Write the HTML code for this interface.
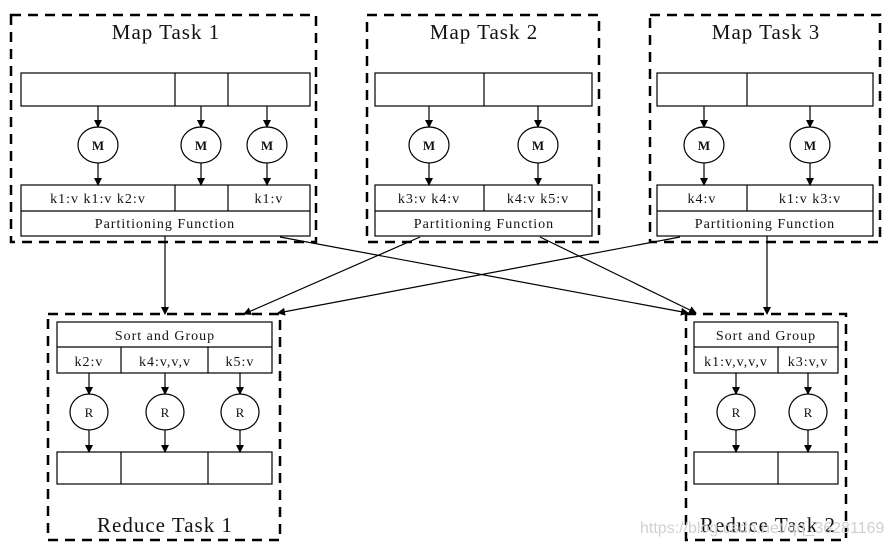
<!DOCTYPE html>
<html><head><meta charset="utf-8"><style>
html,body{margin:0;padding:0;background:#fff}
svg{display:block}
text{font-family:"Liberation Serif",serif;fill:#111}
</style></head><body>
<svg width="892" height="546" viewBox="0 0 892 546" xmlns="http://www.w3.org/2000/svg">
<defs>
<marker id="a" markerWidth="8" markerHeight="8" refX="7" refY="4" orient="auto" markerUnits="userSpaceOnUse">
<path d="M0,0 L8,4 L0,8 z" fill="#000"/></marker>
</defs>
<g fill="none" stroke="#000" stroke-width="2.5" stroke-dasharray="10,7">
<rect x="11" y="15" width="305" height="227"/>
<rect x="367" y="15" width="232" height="227"/>
<rect x="650" y="15" width="230" height="227"/>
<rect x="48" y="314" width="232" height="226"/>
<rect x="686" y="314" width="160" height="226"/>
</g>
<g font-size="21" text-anchor="middle" letter-spacing="1">
<text x="166" y="39">Map Task 1</text>
<text x="484" y="39">Map Task 2</text>
<text x="766" y="39">Map Task 3</text>
<text x="165" y="532">Reduce Task 1</text>
<text x="768" y="532">Reduce Task 2</text>
</g>
<g fill="none" stroke="#000" stroke-width="1.2">
<rect x="21" y="73" width="289" height="33"/><line x1="175" y1="73" x2="175" y2="106"/><line x1="228" y1="73" x2="228" y2="106"/>
<rect x="21" y="185" width="289" height="51"/><line x1="21" y1="211" x2="310" y2="211"/><line x1="175" y1="185" x2="175" y2="211"/><line x1="228" y1="185" x2="228" y2="211"/>
<rect x="375" y="73" width="217" height="33"/><line x1="484" y1="73" x2="484" y2="106"/>
<rect x="375" y="185" width="217" height="51"/><line x1="375" y1="211" x2="592" y2="211"/><line x1="484" y1="185" x2="484" y2="211"/>
<rect x="657" y="73" width="216" height="33"/><line x1="747" y1="73" x2="747" y2="106"/>
<rect x="657" y="185" width="216" height="51"/><line x1="657" y1="211" x2="873" y2="211"/><line x1="747" y1="185" x2="747" y2="211"/>
<rect x="57" y="322" width="215" height="51"/><line x1="57" y1="347" x2="272" y2="347"/><line x1="121" y1="347" x2="121" y2="373"/><line x1="208" y1="347" x2="208" y2="373"/>
<rect x="57" y="452" width="215" height="32"/><line x1="121" y1="452" x2="121" y2="484"/><line x1="208" y1="452" x2="208" y2="484"/>
<rect x="694" y="322" width="144" height="51"/><line x1="694" y1="347" x2="838" y2="347"/><line x1="778" y1="347" x2="778" y2="373"/>
<rect x="694" y="452" width="144" height="32"/><line x1="778" y1="452" x2="778" y2="484"/>
<ellipse cx="98" cy="145" rx="20" ry="18"/><ellipse cx="201" cy="145" rx="20" ry="18"/><ellipse cx="267" cy="145" rx="20" ry="18"/>
<ellipse cx="429" cy="145" rx="20" ry="18"/><ellipse cx="538" cy="145" rx="20" ry="18"/>
<ellipse cx="704" cy="145" rx="20" ry="18"/><ellipse cx="810" cy="145" rx="20" ry="18"/>
<ellipse cx="89" cy="412" rx="19" ry="18"/><ellipse cx="165" cy="412" rx="19" ry="18"/><ellipse cx="240" cy="412" rx="19" ry="18"/>
<ellipse cx="736" cy="412" rx="19" ry="18"/><ellipse cx="808" cy="412" rx="19" ry="18"/>
</g>
<g stroke="#000" stroke-width="1.2" marker-end="url(#a)">
<line x1="98" y1="106" x2="98" y2="127"/><line x1="98" y1="163" x2="98" y2="185"/>
<line x1="201" y1="106" x2="201" y2="127"/><line x1="201" y1="163" x2="201" y2="185"/>
<line x1="267" y1="106" x2="267" y2="127"/><line x1="267" y1="163" x2="267" y2="185"/>
<line x1="429" y1="106" x2="429" y2="127"/><line x1="429" y1="163" x2="429" y2="185"/>
<line x1="538" y1="106" x2="538" y2="127"/><line x1="538" y1="163" x2="538" y2="185"/>
<line x1="704" y1="106" x2="704" y2="127"/><line x1="704" y1="163" x2="704" y2="185"/>
<line x1="810" y1="106" x2="810" y2="127"/><line x1="810" y1="163" x2="810" y2="185"/>
<line x1="89" y1="373" x2="89" y2="394"/><line x1="89" y1="430" x2="89" y2="452"/>
<line x1="165" y1="373" x2="165" y2="394"/><line x1="165" y1="430" x2="165" y2="452"/>
<line x1="240" y1="373" x2="240" y2="394"/><line x1="240" y1="430" x2="240" y2="452"/>
<line x1="736" y1="373" x2="736" y2="394"/><line x1="736" y1="430" x2="736" y2="452"/>
<line x1="808" y1="373" x2="808" y2="394"/><line x1="808" y1="430" x2="808" y2="452"/>
<line x1="165" y1="236" x2="165" y2="314"/>
<line x1="767" y1="236" x2="767" y2="314"/>
<line x1="280" y1="237" x2="688" y2="313"/>
<line x1="420" y1="237" x2="244" y2="314"/>
<line x1="540" y1="237" x2="696" y2="313"/>
<line x1="680" y1="237" x2="278" y2="313"/>
</g>
<g font-size="14" text-anchor="middle" letter-spacing="1">
<g font-weight="bold" font-size="13" letter-spacing="0">
<text x="98" y="150">M</text><text x="201" y="150">M</text><text x="267" y="150">M</text>
<text x="429" y="150">M</text><text x="538" y="150">M</text>
<text x="704" y="150">M</text><text x="810" y="150">M</text>
</g>
<g font-size="13" letter-spacing="0">
<text x="89" y="417">R</text><text x="165" y="417">R</text><text x="240" y="417">R</text>
<text x="736" y="417">R</text><text x="808" y="417">R</text>
</g>
<text x="98" y="203">k1:v k1:v k2:v</text><text x="269" y="203">k1:v</text>
<text x="429" y="203">k3:v k4:v</text><text x="538" y="203">k4:v k5:v</text>
<text x="702" y="203">k4:v</text><text x="810" y="203">k1:v k3:v</text>
<text x="165" y="228">Partitioning Function</text>
<text x="484" y="228">Partitioning Function</text>
<text x="765" y="228">Partitioning Function</text>
<text x="165" y="340">Sort and Group</text>
<text x="766" y="340">Sort and Group</text>
<text x="89" y="366">k2:v</text><text x="165" y="366">k4:v,v,v</text><text x="240" y="366">k5:v</text>
<text x="736" y="366">k1:v,v,v,v</text><text x="808" y="366">k3:v,v</text>
</g>
<text x="640" y="533" style="fill:#d0d0d0;font-family:'Liberation Sans',sans-serif;font-size:16px">https://blog.csdn.net/qq_36281169</text>
</svg>
</body></html>
